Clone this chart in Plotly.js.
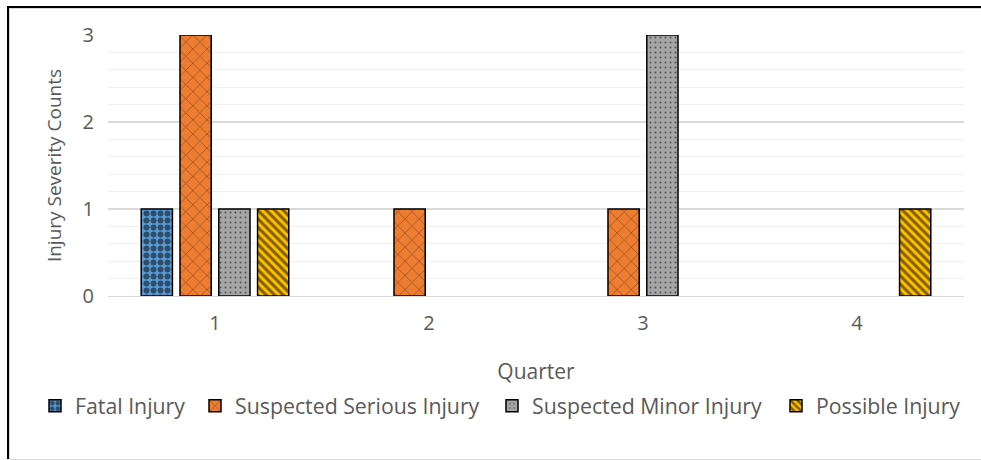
<!DOCTYPE html>
<html>
<head>
<meta charset="utf-8">
<script src="https://cdn.plot.ly/plotly-3.0.1.min.js"></script>
<style>
  html, body { margin: 0; padding: 0; background: #fff; }
  #wrap { position: relative; width: 981px; height: 460px; overflow: hidden; }
  #frame { position: absolute; left: 7px; top: 6px; width: 990px; height: 451px;
           border-top: 2px solid #000; border-left: 2px solid #000; pointer-events: none; z-index: 2; }
  #inner { position: absolute; left: 9px; top: 8px; width: 990px; height: 450px;
           border-top: 1px solid #d9d9d9; border-left: 1px solid #d9d9d9; border-bottom: 1px solid #d9d9d9; pointer-events: none; z-index: 2; }
  #chart { position: absolute; left: 0; top: 0; width: 981px; height: 460px; }
</style>
</head>
<body>
<div id="wrap">
  <div id="chart"></div>
  <div id="inner"></div>
  <div id="frame"></div>
</div>
<script>
const quarters = ['1', '2', '3', '4'];
const fatalInjury = [1, 0, 0, 0];
const suspectedSeriousInjury = [3, 1, 1, 0];
const suspectedMinorInjury = [1, 0, 3, 0];
const possibleInjury = [1, 0, 0, 1];
const seriesNames = ['Fatal Injury', 'Suspected Serious Injury', 'Suspected Minor Injury', 'Possible Injury'];
const yTicks = [0, 1, 2, 3];

const FONT = '"Open Sans", Lato, sans-serif';
const GREY = '#595959';

// Zero counts are not drawn (as in the source chart), so map 0 -> null.
function visible(values) { return values.map(v => (v === 0 ? null : v)); }

function bar(name, values, bg, fg, shape, size, solidity, legendId) {
  return {
    type: 'bar', name: name, x: quarters, y: visible(values), legend: legendId,
    marker: {
      color: bg,
      line: { color: '#000000', width: 1.5 },
      pattern: { shape: shape, fgcolor: fg, bgcolor: bg, size: size, solidity: solidity, fillmode: 'overlay' }
    },
    hoverinfo: 'x+y+name'
  };
}

const data = [
  bar(seriesNames[0], fatalInjury, '#5b9bd5', '#000000', '.', 7, 0.55, 'legend'),
  bar(seriesNames[1], suspectedSeriousInjury, '#ed7d31', '#4a2008', 'x', 10, 0.15, 'legend2'),
  bar(seriesNames[2], suspectedMinorInjury, '#a5a5a5', '#000000', '.', 5, 0.12, 'legend3'),
  bar(seriesNames[3], possibleInjury, '#ffc000', '#000000', '\\', 6, 0.5, 'legend4')
];

function legendAt(px) {
  return {
    orientation: 'h', xref: 'container', yref: 'container',
    x: px / 981, xanchor: 'left', y: 1 - 406 / 460, yanchor: 'middle',
    font: { family: FONT, size: 21.3, color: GREY },
    itemwidth: 30, bgcolor: 'rgba(0,0,0,0)', borderwidth: 0
  };
}

const layout = {
  width: 981, height: 460,
  margin: { l: 108, r: 17, t: 35, b: 164 },
  paper_bgcolor: '#ffffff', plot_bgcolor: '#ffffff',
  font: { family: FONT, size: 20, color: GREY },
  barmode: 'group', bargap: 0.275, bargroupgap: 0.195,
  showlegend: true,
  legend: legendAt(35),
  legend2: legendAt(195),
  legend3: legendAt(492),
  legend4: legendAt(776),
  xaxis: {
    type: 'category',
    showgrid: false, zeroline: false,
    showline: true, linecolor: '#d9d9d9', linewidth: 1,
    ticks: '', ticklabelstandoff: 9,
    tickfont: { family: FONT, size: 20, color: GREY },
    title: { text: 'Quarter', font: { family: FONT, size: 21, color: GREY }, standoff: 29 },
    fixedrange: true
  },
  yaxis: {
    range: [0, 3], tickvals: yTicks, ticktext: yTicks.map(String),
    showgrid: true, gridcolor: '#d9d9d9', gridwidth: 1.3,
    minor: { dtick: 0.2, showgrid: true, gridcolor: '#f0f0f0', gridwidth: 1 },
    zeroline: false, showline: false,
    ticks: '', ticklabelstandoff: 13,
    tickfont: { family: FONT, size: 20, color: GREY },
    title: { text: 'Injury Severity Counts', font: { family: FONT, size: 19, color: GREY }, standoff: 15 },
    fixedrange: true
  }
};

Plotly.newPlot('chart', data, layout, { displayModeBar: false, staticPlot: true });
</script>
</body>
</html>
